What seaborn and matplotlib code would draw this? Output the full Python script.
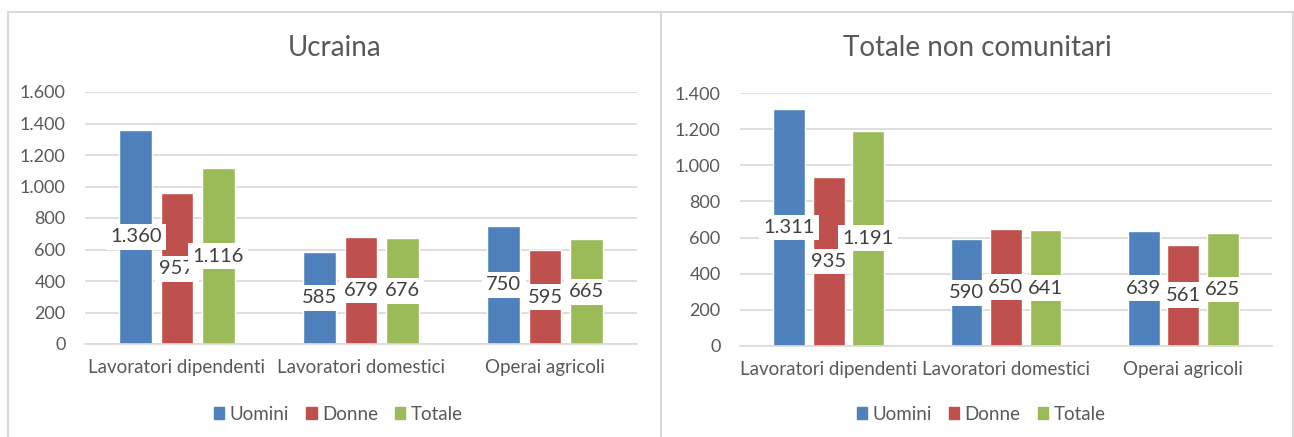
import pandas as pd
import matplotlib
matplotlib.use("Agg")
import matplotlib.pyplot as plt
from matplotlib.patches import Patch
from matplotlib.ticker import FuncFormatter, MultipleLocator
import seaborn as sns

# dati
categorie = ["Lavoratori dipendenti", "Lavoratori domestici", "Operai agricoli"]
serie = ["Uomini", "Donne", "Totale"]

ucraina_uomini = [1360, 585, 750]
ucraina_donne = [957, 679, 595]
ucraina_totale = [1116, 676, 665]

noncom_uomini = [1311, 590, 639]
noncom_donne = [935, 650, 561]
noncom_totale = [1191, 641, 625]

colori = ["#4F81BD", "#C0504D", "#9BBB59"]


def fmt_it(v, pos=None):
    return f"{v:,.0f}".replace(",", ".")


def tabella(uomini, donne, totale):
    righe = []
    for nome, valori in zip(serie, [uomini, donne, totale]):
        for cat, v in zip(categorie, valori):
            righe.append({"categoria": cat, "sesso": nome, "valore": v})
    return pd.DataFrame(righe)


sns.set_style("white")
plt.rcParams["font.family"] = ["Lato", "DejaVu Sans"]

W, H = 1294, 437
fig = plt.figure(figsize=(W / 100, H / 100), dpi=100)

pannelli = [
    ("Ucraina", tabella(ucraina_uomini, ucraina_donne, ucraina_totale), 1600,
     [85, 637, 92, 344], (8, 661)),
    ("Totale non comunitari", tabella(noncom_uomini, noncom_donne, noncom_totale), 1400,
     [740, 1272, 93, 346], (661, 1293)),
]

grigio = "#595959"
griglia = "#D9D9D9"

for titolo, df, ymax, (x0, x1, ytop, ybot), (px0, px1) in pannelli:
    ax = fig.add_axes([x0 / W, 1 - ybot / H, (x1 - x0) / W, (ybot - ytop) / H])
    sns.barplot(data=df, x="categoria", y="valore", hue="sesso", palette=colori,
                saturation=1, width=0.67, gap=0.2, ax=ax, errorbar=None, legend=False)
    ax.set_ylim(0, ymax)
    ax.set_xlim(-0.5, 2.5)
    ax.yaxis.set_major_locator(MultipleLocator(200))
    ax.yaxis.set_major_formatter(FuncFormatter(fmt_it))
    ax.grid(axis="y", color=griglia, linewidth=1.2)
    ax.set_axisbelow(True)
    for s in ["top", "right", "left"]:
        ax.spines[s].set_visible(False)
    ax.spines["bottom"].set_color(griglia)
    ax.spines["bottom"].set_linewidth(1.2)
    ax.tick_params(axis="y", length=0, pad=14, labelsize=13, labelcolor=grigio)
    ax.tick_params(axis="x", length=0, pad=11, labelsize=13.5, labelcolor=grigio)
    ax.set_xlabel("")
    ax.set_ylabel("")

    for cont in ax.containers:
        ax.bar_label(cont, labels=[fmt_it(b.get_height()) for b in cont],
                     label_type="center", fontsize=14.5, color="#404040",
                     bbox=dict(boxstyle="square,pad=0.22", fc="white", ec="none"))

    cx = (px0 + px1) / 2 / W
    fig.text(cx, 1 - 48 / H, titolo, ha="center", va="center", fontsize=20, color=grigio)

    maniglie = [Patch(color=c, label=s) for c, s in zip(colori, serie)]
    fig.legend(handles=maniglie, loc="center", bbox_to_anchor=(cx + 4 / W, 1 - 414 / H),
               ncol=3, frameon=False, fontsize=13.5, handlelength=0.55, handleheight=0.55,
               handletextpad=0.3, columnspacing=0.9, labelcolor=grigio)

# bordi dei pannelli
bordo = dict(color=griglia, linewidth=1.5, transform=fig.transFigure)
fig.add_artist(plt.Line2D([8 / W, 1293 / W], [1 - 12 / H, 1 - 12 / H], **bordo))
for xb in [8, 661, 1293]:
    fig.add_artist(plt.Line2D([xb / W, xb / W], [0, 1 - 12 / H], **bordo))

fig.savefig("out.png", dpi=100)
